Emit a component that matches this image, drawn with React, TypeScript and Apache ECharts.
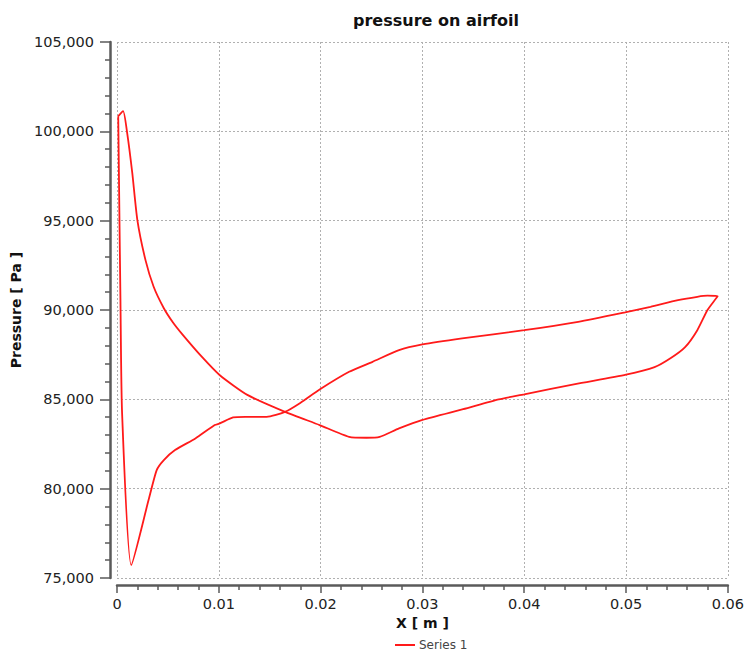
import React, { useEffect, useRef } from "react";
import * as echarts from "echarts";

// Branch running from the leading-edge peak through the suction minimum to the trailing edge
const branchA_x = [0.00012, 0.0006, 0.001, 0.0015, 0.002, 0.0028, 0.0036, 0.0046, 0.0055, 0.0064, 0.0083, 0.0101, 0.0128, 0.0165, 0.0199, 0.0228, 0.0245, 0.0258, 0.0277, 0.030, 0.034, 0.0375, 0.040, 0.045, 0.050, 0.0528, 0.0544, 0.0558, 0.057, 0.058, 0.059];
const branchA_y = [100850, 101130, 99900, 97670, 95030, 92790, 91300, 90100, 89300, 88650, 87400, 86350, 85250, 84300, 83560, 82900, 82850, 82900, 83370, 83850, 84450, 85000, 85280, 85850, 86380, 86800, 87310, 87920, 88870, 90000, 90780];

// Branch running from the trailing edge back to the leading edge
const branchB_x = [0.058, 0.057, 0.0551, 0.0524, 0.0499, 0.0453, 0.040, 0.0339, 0.030, 0.0277, 0.0251, 0.0228, 0.0199, 0.018, 0.0165, 0.0147, 0.0126, 0.0114, 0.0101, 0.0096, 0.0077, 0.0057, 0.0046, 0.0039, 0.0031, 0.0014, 0.0005, 0.00034, 0.00012];
const branchB_y = [90800, 90740, 90550, 90180, 89870, 89340, 88870, 88410, 88070, 87750, 87100, 86540, 85550, 84800, 84300, 84020, 84020, 83990, 83650, 83560, 82810, 82160, 81600, 81040, 79360, 75720, 84230, 90500, 100850];

const xTicks = [0, 0.01, 0.02, 0.03, 0.04, 0.05, 0.06];
const yTicks = [75000, 80000, 85000, 90000, 95000, 100000, 105000];

const seriesName = "Series 1";
const titleText = "pressure on airfoil";
const xName = "X [ m ]";
const yName = "Pressure [ Pa ]";

export default function App() {
  const ref = useRef<HTMLDivElement>(null);
  useEffect(() => {
    if (!ref.current) return;
    const chart = echarts.init(ref.current, undefined, { renderer: "svg" });
    const data: number[][] = [];
    branchA_x.forEach((x, i) => data.push([x, branchA_y[i]]));
    branchB_x.forEach((x, i) => data.push([x, branchB_y[i]]));
    const font = "DejaVu Sans, Verdana, sans-serif";
    const axisColor = "#5a5a5a";
    chart.setOption({
      animation: false,
      backgroundColor: "#ffffff",
      title: {
        text: titleText,
        left: 431,
        top: 7,
        textAlign: "center",
        textStyle: { fontFamily: font, fontSize: 16, fontWeight: "bold", color: "#111" },
      },
      legend: {
        data: [{ name: seriesName, icon: "rect" }],
        left: 395,
        top: 639,
        itemWidth: 20,
        itemHeight: 2,
        itemGap: 4,
        padding: 0,
        textStyle: { fontFamily: font, fontSize: 12, color: "#444", padding: [0, 0, 0, -1] },
      },
      grid: { left: 117, right: 17, top: 42, bottom: 74, containLabel: false },
      xAxis: {
        type: "value",
        min: xTicks[0],
        max: xTicks[xTicks.length - 1],
        interval: 0.01,
        offset: 7,
        name: xName,
        nameLocation: "middle",
        nameGap: 30,
        nameTextStyle: { fontFamily: font, fontSize: 14, fontWeight: "bold", color: "#111" },
        axisLine: { show: true, onZero: false, lineStyle: { color: axisColor, width: 2.5 } },
        axisTick: { show: true, length: 8, lineStyle: { color: axisColor, width: 1.5 } },
        minorTick: { show: true, splitNumber: 5, length: 5, lineStyle: { color: axisColor, width: 1.5 } },
        axisLabel: { margin: 11, fontFamily: font, fontSize: 14.5, color: "#222" },
        splitLine: { show: true, lineStyle: { color: "#b0b0b0", type: [2, 2], width: 1 } },
      },
      yAxis: {
        type: "value",
        min: yTicks[0],
        max: yTicks[yTicks.length - 1],
        interval: 5000,
        offset: 7,
        name: yName,
        nameLocation: "middle",
        nameGap: 79,
        nameTextStyle: { fontFamily: font, fontSize: 14, fontWeight: "bold", color: "#111" },
        axisLine: { show: true, onZero: false, lineStyle: { color: axisColor, width: 2.5 } },
        axisTick: { show: true, length: 10, lineStyle: { color: axisColor, width: 1.5 } },
        minorTick: { show: true, splitNumber: 5, length: 5, lineStyle: { color: axisColor, width: 1.5 } },
        axisLabel: {
          margin: 16,
          fontFamily: font,
          fontSize: 14.5,
          color: "#222",
          formatter: (v: number) => v.toLocaleString("en-US"),
        },
        splitLine: { show: true, lineStyle: { color: "#b0b0b0", type: [2, 2], width: 1 } },
      },
      series: [
        {
          name: seriesName,
          type: "line",
          data,
          symbol: "none",
          smooth: 0.2,
          lineStyle: { color: "#ff1a1a", width: 1.8 },
          itemStyle: { color: "#ff1a1a" },
        },
      ],
    });
    return () => chart.dispose();
  }, []);
  return (
    <div
      ref={ref}
      style={{ position: "fixed", left: 0, top: 0, width: 747, height: 652, background: "#fff" }}
    />
  );
}
